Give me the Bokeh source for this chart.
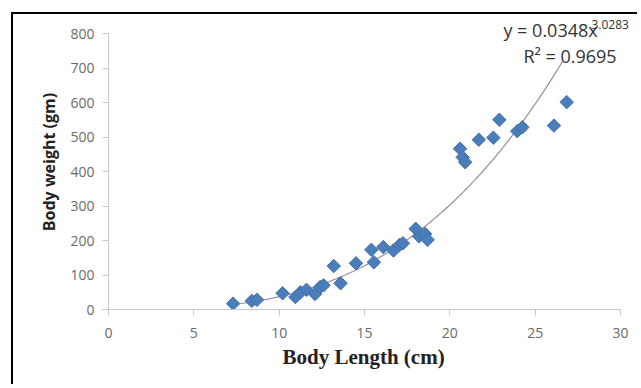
import numpy as np
from bokeh.plotting import figure
from bokeh.models import FixedTicker, Label, Range1d, ColumnDataSource, Title
from bokeh.embed import file_html
from bokeh.resources import INLINE

# ---- data ----
body_length = [7.3, 8.4, 8.7, 10.2, 10.95, 11.25, 11.6, 12.1, 12.4, 12.6,
               13.2, 13.6, 14.5, 15.4, 15.55, 16.1, 16.7, 17.05, 17.25,
               18.0, 18.2, 18.55, 18.7, 20.6, 20.75, 20.9, 21.7, 22.55,
               22.9, 23.95, 24.25, 26.1, 26.85]
body_weight = [17, 25, 28, 47, 36, 50, 57, 45, 65, 70,
               126, 76, 134, 173, 137, 181, 171, 187, 192,
               234, 212, 219, 202, 466, 441, 427, 492, 498,
               550, 517, 528, 533, 601]

x_ticks = [0, 5, 10, 15, 20, 25, 30]
y_ticks = [0, 100, 200, 300, 400, 500, 600, 700, 800]

# power trendline shown on the chart: y = a * x^b
trend_a = 0.0348
trend_b = 3.0283
trend_r2 = 0.9695
trend_x_start = 7.2
trend_x_end = 26.6

# ---- layout (pixels) ----
W, H = 626, 372
frame_left, frame_bottom = 95, 77          # borders around the plotting frame
axis_px_x, axis_px_y = 512, 276            # pixel length of the 0-30 / 0-800 axes
frame_w = W - frame_left
frame_h = H - frame_bottom
x_end = 30 * frame_w / axis_px_x
y_end = 800 * frame_h / axis_px_y

p = figure(width=W, height=H, output_backend="svg", toolbar_location=None,
           x_range=Range1d(0, x_end), y_range=Range1d(0, y_end),
           min_border_left=frame_left, min_border_right=0, min_border_top=0,
           min_border_bottom=frame_bottom)
p.margin = (12, 0, 0, 11)
p.styles = {"border-top": "2px solid black", "border-left": "2px solid black"}
p.outline_line_color = None
p.background_fill_color = "white"
p.border_fill_color = "white"
p.xgrid.visible = False
p.ygrid.visible = False

tick_font = "Open Sans"
for ax in (p.xaxis[0], p.yaxis[0]):
    ax.axis_line_color = "#c8c8c8"
    ax.major_tick_line_color = "#c8c8c8"
    ax.minor_tick_line_color = None
    ax.major_tick_in = 0
    ax.major_tick_out = 6
    ax.major_label_text_font = tick_font
    ax.major_label_text_font_size = "14px"
    ax.major_label_text_color = "#6a6a6a"

p.xaxis.major_label_standoff = 12
p.yaxis.major_label_standoff = 8
p.xaxis.bounds = (x_ticks[0], x_ticks[-1])
p.yaxis.bounds = (y_ticks[0], y_ticks[-1])
p.xaxis.ticker = FixedTicker(ticks=x_ticks)
p.yaxis.ticker = FixedTicker(ticks=y_ticks)

# x-axis title: centred under the 0-30 axis (not the wider frame)
x_title = Title(text="Body Length (cm)", align="left", offset=174,
                text_font="Liberation Serif", text_font_style="bold",
                text_font_size="21px", text_color="#222222", standoff=4)
p.add_layout(x_title, "below")

p.yaxis.axis_label = "Body weight (gm)"
p.yaxis.axis_label_text_font = "Open Sans"
p.yaxis.axis_label_text_font_style = "bold"
p.yaxis.axis_label_text_font_size = "16px"
p.yaxis.axis_label_text_color = "#222222"
p.yaxis.axis_label_standoff = 7

# trendline
tx = np.linspace(trend_x_start, trend_x_end, 200)
ty = trend_a * tx ** trend_b
p.line(tx, ty, line_color="#9a8a9a", line_width=1.2)

# data points (diamonds)
src = ColumnDataSource(dict(x=body_length, y=body_weight))
p.scatter("x", "y", source=src, marker="square", angle=np.pi / 4, size=9.5,
          fill_color="#4A7EBB", line_color="#3F6FA8", line_width=1)

# equation labels
p.add_layout(Label(x=23.14, y=811, text="y = %.4fx" % trend_a, text_font=tick_font,
                   text_font_size="18px", text_color="#333333",
                   text_align="left", text_baseline="middle"))
p.add_layout(Label(x=28.3, y=827, text="%.4f" % trend_b, text_font=tick_font,
                   text_font_size="12px", text_color="#333333",
                   text_align="left", text_baseline="middle"))
p.add_layout(Label(x=24.31, y=736, text="R\u00b2 = %.4f" % trend_r2, text_font=tick_font,
                   text_font_size="18px", text_color="#333333",
                   text_align="left", text_baseline="middle"))

open("out.html", "w").write(file_html(p, INLINE))
